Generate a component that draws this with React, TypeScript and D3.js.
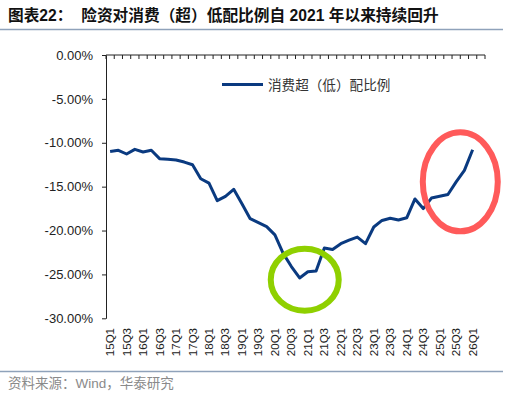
import React, { useRef, useEffect } from 'react';
import * as d3 from 'd3';

// quarters on the band axis (26Q2 has no value yet)
const quarters = [
  '15Q1', '15Q2', '15Q3', '15Q4', '16Q1', '16Q2', '16Q3', '16Q4',
  '17Q1', '17Q2', '17Q3', '17Q4', '18Q1', '18Q2', '18Q3', '18Q4',
  '19Q1', '19Q2', '19Q3', '19Q4', '20Q1', '20Q2', '20Q3', '20Q4',
  '21Q1', '21Q2', '21Q3', '21Q4', '22Q1', '22Q2', '22Q3', '22Q4',
  '23Q1', '23Q2', '23Q3', '23Q4', '24Q1', '24Q2', '24Q3', '24Q4',
  '25Q1', '25Q2', '25Q3', '25Q4', '26Q1', '26Q2',
];

// 消费超（低）配比例, %
const ratio = [
  -11.0, -10.86, -11.28, -10.75, -11.05, -10.86, -11.81, -11.89,
  -11.96, -12.2, -12.5, -14.1, -14.6, -16.6, -16.1, -15.3,
  -16.95, -18.65, -19.1, -19.55, -20.5, -22.6, -24.1, -25.4,
  -24.7, -24.6, -22.0, -22.15, -21.5, -21.1, -20.75, -21.5,
  -19.6, -18.85, -18.6, -18.8, -18.55, -16.4, -17.5, -16.3,
  -16.1, -15.9, -14.45, -13.15, -10.8,
];

const yTicks = [0, -5, -10, -15, -20, -25, -30];

const title = '图表22：  险资对消费（超）低配比例自 2021 年以来持续回升';
const seriesName = '消费超（低）配比例';
const source = '资料来源：Wind，华泰研究';

export default function App() {
  const ref = useRef<HTMLDivElement>(null);

  useEffect(() => {
    const width = 511;
    const height = 395;
    const plot = { left: 106, right: 485, top: 55, bottom: 318.3 };
    const navy = '#0a3a80';
    const rule = '#8fa2ba';
    const latin = 'Liberation Sans, Arial, sans-serif';
    const cjk = '"Liberation Sans", "Noto Sans CJK SC", sans-serif';

    const svg = d3
      .select(ref.current)
      .call((g) => g.select('svg').remove())
      .append('svg')
      .attr('width', width)
      .attr('height', height)
      .style('position', 'absolute')
      .style('left', 0)
      .style('top', 0);

    svg.append('rect').attr('width', width).attr('height', height).attr('fill', '#fff');

    const x = d3.scaleBand().domain(quarters).range([plot.left, plot.right]).padding(0);
    const y = d3.scaleLinear().domain([-30, 0]).range([plot.bottom, plot.top]);
    const xc = (q: string) => (x(q) as number) + x.bandwidth() / 2;

    // heading and rules
    svg.append('text')
      .attr('x', 8)
      .attr('y', 21)
      .attr('font-family', cjk)
      .attr('font-weight', 'bold')
      .attr('font-size', 15.7)
      .attr('fill', '#111')
      .style('white-space', 'pre')
      .text(title);

    [29.5, 371.5].forEach((ly) => {
      svg.append('line')
        .attr('x1', 0).attr('x2', 503)
        .attr('y1', ly).attr('y2', ly)
        .attr('stroke', rule)
        .attr('stroke-width', 1.3);
    });

    svg.append('text')
      .attr('x', 8)
      .attr('y', 387.5)
      .attr('font-family', cjk)
      .attr('font-size', 13.5)
      .attr('fill', '#8a8a8a')
      .text(source);

    // y axis
    const yAxis = svg.append('g').attr('transform', `translate(${plot.left},0)`)
      .call(d3.axisLeft(y).tickValues(yTicks).tickSize(4).tickSizeOuter(0)
        .tickFormat((d) => `${(+d).toFixed(2)}%`));
    yAxis.select('.domain').attr('stroke', '#222');
    yAxis.selectAll('.tick line').attr('stroke', '#222');
    yAxis.selectAll('.tick text')
      .attr('x', -13)
      .attr('font-family', latin)
      .attr('font-size', 13)
      .attr('fill', '#222');

    // x axis sits on the zero line, ticks at band edges pointing down
    const edges = quarters.map((q) => x(q) as number).concat([plot.right]);
    svg.append('line')
      .attr('x1', plot.left).attr('x2', plot.right)
      .attr('y1', y(0)).attr('y2', y(0))
      .attr('stroke', '#222');
    svg.append('g').selectAll('line').data(edges).join('line')
      .attr('x1', (d) => d).attr('x2', (d) => d)
      .attr('y1', y(0)).attr('y2', y(0) + 4)
      .attr('stroke', '#222');

    svg.append('g').selectAll('text')
      .data(quarters.filter((_, i) => i % 2 === 0))
      .join('text')
      .attr('transform', (d) => `translate(${xc(d)},328) rotate(-90)`)
      .attr('text-anchor', 'end')
      .attr('dy', '0.35em')
      .attr('font-family', latin)
      .attr('font-size', 11.5)
      .attr('fill', '#222')
      .text((d) => d);

    // series
    const line = d3.line<number>()
      .x((_, i) => xc(quarters[i]))
      .y((d) => y(d));

    svg.append('path')
      .datum(ratio)
      .attr('fill', 'none')
      .attr('stroke', navy)
      .attr('stroke-width', 3)
      .attr('stroke-linejoin', 'round')
      .attr('d', line);

    // legend
    svg.append('line')
      .attr('x1', 222).attr('x2', 263)
      .attr('y1', 84.5).attr('y2', 84.5)
      .attr('stroke', navy)
      .attr('stroke-width', 3);
    svg.append('text')
      .attr('x', 268)
      .attr('y', 89.5)
      .attr('font-family', cjk)
      .attr('font-size', 13.6)
      .attr('fill', '#333')
      .text(seriesName);

    // highlight rings: the 2021 trough and the latest rebound
    svg.append('ellipse')
      .attr('cx', (xc('20Q4') + xc('21Q1')) / 2 + 1)
      .attr('cy', y(-25.6))
      .attr('rx', 34)
      .attr('ry', 31)
      .attr('fill', 'none')
      .attr('stroke', '#8fd000')
      .attr('stroke-width', 6);

    svg.append('ellipse')
      .attr('cx', (xc('25Q3') + xc('25Q4')) / 2)
      .attr('cy', y(-14.45))
      .attr('rx', 37.5)
      .attr('ry', 49.5)
      .attr('fill', 'none')
      .attr('stroke', '#ff5a5a')
      .attr('stroke-width', 6);
  }, []);

  return <div ref={ref}></div>;
}
